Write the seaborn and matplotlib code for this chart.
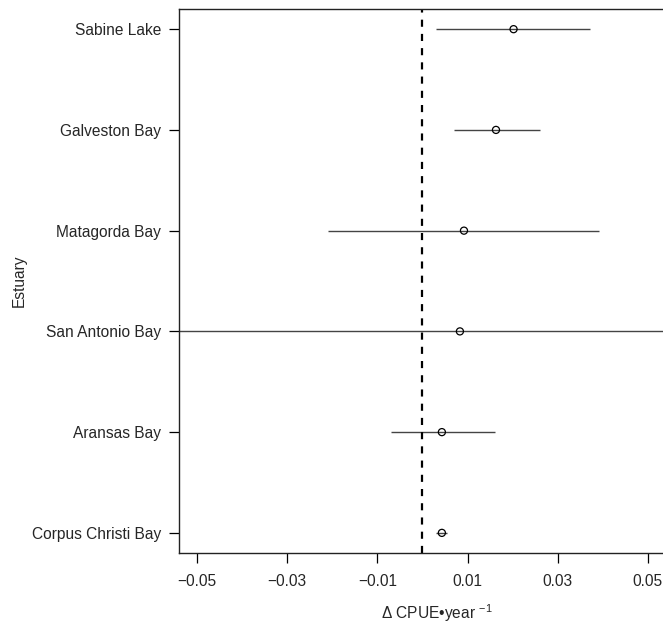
import matplotlib.pyplot as plt
import numpy as np
import pandas as pd
import seaborn as sns

# change in CPUE per year by estuary, with interval bounds
estuaries = [
    "Sabine Lake",
    "Galveston Bay",
    "Matagorda Bay",
    "San Antonio Bay",
    "Aransas Bay",
    "Corpus Christi Bay",
]
estimate = [0.0202, 0.0163, 0.0092, 0.0083, 0.0043, 0.0043]
lower = [0.0030, 0.0069, -0.0210, -0.0700, -0.0070, 0.0031]
upper = [0.0371, 0.0261, 0.0391, 0.0850, 0.0160, 0.0055]
xticks = [-0.05, -0.03, -0.01, 0.01, 0.03, 0.05]

FS = 11.2

sns.set_style("ticks")
plt.rcParams["font.family"] = ["Liberation Sans", "DejaVu Sans"]
plt.rcParams["font.size"] = FS
plt.rcParams["mathtext.fontset"] = "custom"
plt.rcParams["mathtext.rm"] = "Liberation Sans"
plt.rcParams["mathtext.it"] = "Liberation Sans:italic"

df = pd.DataFrame({"estuary": estuaries, "est": estimate, "lo": lower, "hi": upper})
# first estuary at the top
df["pos"] = np.arange(len(df))[::-1]

fig = plt.figure(figsize=(6.63, 6.27), dpi=100)
# the original is cropped on the right, so the axes run past the figure edge
ax = fig.add_axes([0.27, 0.118, 0.778, 0.8676])

ax.hlines(df["pos"], df["lo"], df["hi"], color="#444444", linewidth=1.0, zorder=1)
sns.scatterplot(
    data=df,
    x="est",
    y="pos",
    ax=ax,
    marker="o",
    s=26,
    facecolor="none",
    edgecolor="black",
    linewidth=0.9,
    zorder=3,
)
ax.axvline(0, color="black", linewidth=1.6, linestyle=(0, (3.2, 3.2)), zorder=2)

ax.set_xlim(-0.054, 0.0604)
ax.set_ylim(-0.2, len(df) - 0.8)
ax.set_xticks(xticks)
ax.set_xticklabels([f"{t:.2f}".replace("-", "\u2212") for t in xticks])
ax.set_yticks(df["pos"])
ax.set_yticklabels(df["estuary"])

ax.tick_params(axis="both", length=7, width=0.9, color="black", labelsize=FS)
ax.tick_params(axis="x", pad=8)
ax.tick_params(axis="y", pad=6)
for side in ["left", "bottom", "top", "right"]:
    ax.spines[side].set_visible(True)
    ax.spines[side].set_linewidth(1.0)
    ax.spines[side].set_color("#222222")

ax.set_xlabel("\u0394 CPUE\u2022year $^{-1}$", fontsize=FS, labelpad=10)
ax.set_ylabel("Estuary", fontsize=FS)
ax.yaxis.set_label_coords(-0.296, 0.5)

fig.savefig("out.png", dpi=100)
